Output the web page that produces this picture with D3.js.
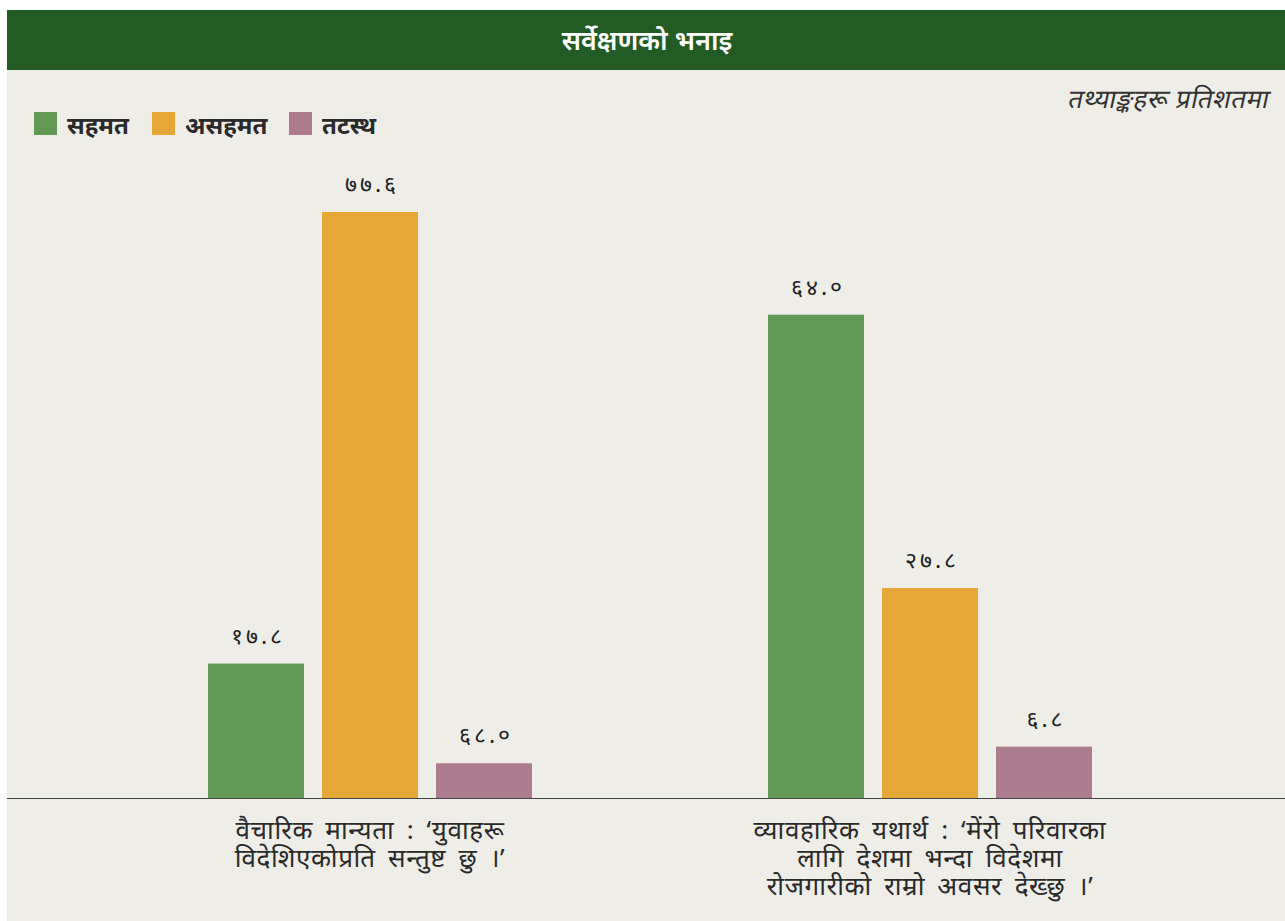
<!DOCTYPE html>
<html><head><meta charset="utf-8">
<script src="https://cdn.jsdelivr.net/npm/d3@7"></script>
<style>
html,body{margin:0;padding:0;background:#fff;}
svg{display:block;font-family:"Noto Sans","Noto Sans Devanagari","Lohit Devanagari",sans-serif;}
</style></head>
<body><svg id="c" width="1285" height="921"></svg>
<script>
const title = "सर्वेक्षणको भनाइ";
const subtitle = "तथ्याङ्कहरू प्रतिशतमा";
const seriesNames = ["सहमत", "असहमत", "तटस्थ"];
const seriesColors = ["#629a55", "#e6a737", "#ad7b8e"];
const categories = [
  ["वैचारिक मान्यता : ‘युवाहरू", "विदेशिएकोप्रति सन्तुष्ट छु ।’"],
  ["व्यावहारिक यथार्थ : ‘मेंरो परिवारका", "लागि देशमा भन्दा विदेशमा", "रोजगारीको राम्रो अवसर देख्छु ।’"]
];
const agree = [17.8, 64.0];
const disagree = [77.6, 27.8];
const neutral = [4.6, 6.8];
const valueLabels = [["१७.८", "७७.६", "६८.०"], ["६४.०", "२७.८", "६.८"]];

const svg = d3.select("#c");
svg.append("rect").attr("x",0).attr("y",0).attr("width",1285).attr("height",921).attr("fill","#ffffff");
svg.append("rect").attr("x",7).attr("y",10).attr("width",1278).attr("height",911).attr("fill","#eeede8");
svg.append("rect").attr("x",7).attr("y",10).attr("width",1278).attr("height",60).attr("fill","#225c24");
svg.append("text").attr("x",647).attr("y",50).attr("text-anchor","middle").attr("fill","#fff")
  .attr("font-size",27).attr("font-weight","600").text(title);
svg.append("text").attr("transform","translate(1268,108) skewX(-12)").attr("text-anchor","end").attr("fill","#333")
  .attr("font-size",26).attr("letter-spacing","0.5px").text(subtitle);

// legend
const legX = [34, 152, 289];
seriesNames.forEach((n,i)=>{
  svg.append("rect").attr("x",legX[i]).attr("y",112).attr("width",23).attr("height",23).attr("fill",seriesColors[i]);
  svg.append("text").attr("x",legX[i]+33).attr("y",134).attr("font-size",24).attr("font-weight","bold")
    .attr("fill","#2a2a2a").text(n);
});

const data = [agree, disagree, neutral];
const baseY = 798;
const y = d3.scaleLinear().domain([0, 77.6]).range([baseY, 212]);
const x0 = d3.scaleBand().domain([0,1]).range([90, 1210]).paddingInner(0).paddingOuter(0);
const x1 = d3.scaleBand().domain([0,1,2]).range([0, 324]).paddingInner(18/114).paddingOuter(0);
const groupOffset = (x0.bandwidth() - 324)/2;

const g = svg.append("g");
[0,1].forEach(ci=>{
  const gx = x0(ci) + groupOffset;
  data.forEach((s,si)=>{
    const v = s[ci];
    g.append("rect").attr("x", gx + x1(si)).attr("y", y(v)).attr("width", x1.bandwidth())
      .attr("height", baseY - y(v)).attr("fill", seriesColors[si]);
    g.append("text").attr("x", gx + x1(si) + x1.bandwidth()/2 + 2).attr("y", y(v) - 20)
      .attr("text-anchor","middle").attr("font-size",23).attr("letter-spacing","3px")
      .attr("fill","#222").text(valueLabels[ci][si]);
  });
  const cx = x0(ci) + x0.bandwidth()/2;
  categories[ci].forEach((line,li)=>{
    svg.append("text").attr("x",cx).attr("y",839 + li*28).attr("text-anchor","middle")
      .attr("font-size",26).attr("letter-spacing","0.6px").attr("word-spacing","5px")
      .attr("fill","#2a2a2a").text(line);
  });
});
svg.append("line").attr("x1",7).attr("x2",1285).attr("y1",baseY+0.5).attr("y2",baseY+0.5)
  .attr("stroke","#444").attr("stroke-width",1.2);
</script></body></html>
